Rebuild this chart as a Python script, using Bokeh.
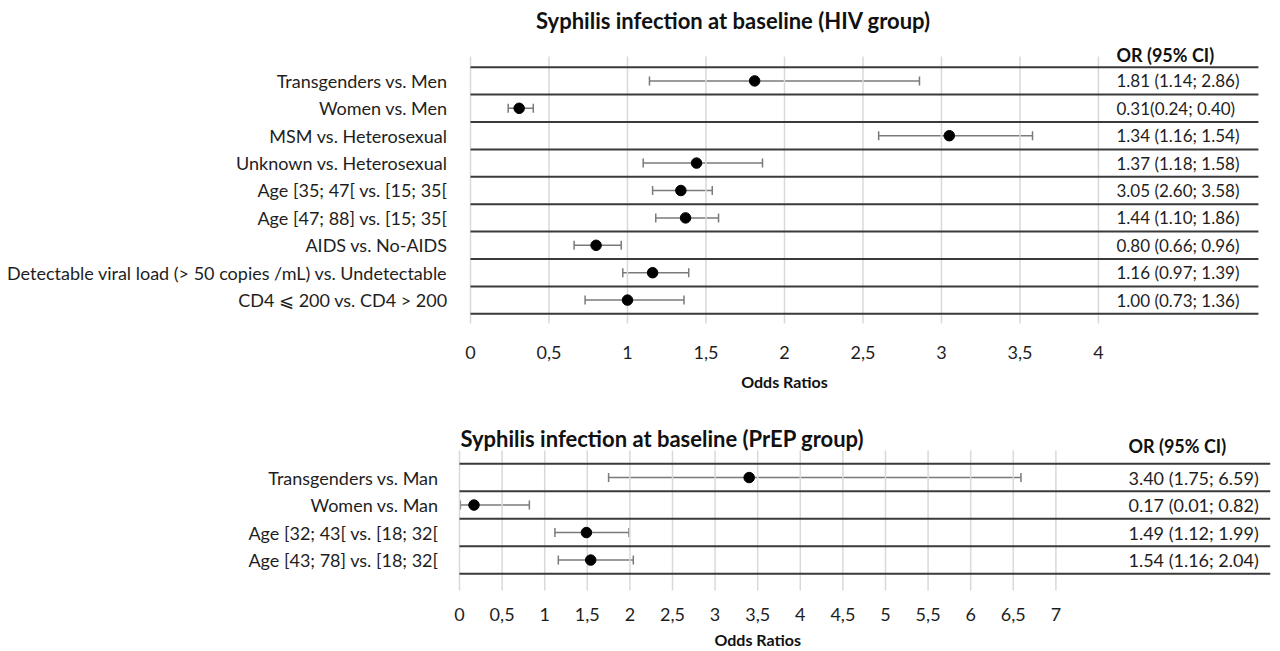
from bokeh.plotting import figure
from bokeh.models import Range1d, FixedTicker, Whisker, ColumnDataSource, TeeHead
from bokeh.layouts import column
from bokeh.core.properties import value
from bokeh.embed import file_html
from bokeh.resources import INLINE

# ---------------- data: HIV group ----------------
hiv_labels = [
    "Transgenders vs. Men",
    "Women vs. Men",
    "MSM vs. Heterosexual",
    "Unknown vs. Heterosexual",
    "Age [35; 47[ vs. [15; 35[",
    "Age [47; 88] vs. [15; 35[",
    "AIDS vs. No-AIDS",
    "Detectable viral load (> 50 copies /mL) vs. Undetectable",
    "CD4 \u2a7d 200 vs. CD4 > 200",
]
hiv_or = [1.81, 0.31, 3.05, 1.44, 1.34, 1.37, 0.80, 1.16, 1.00]
hiv_lo = [1.14, 0.24, 2.60, 1.10, 1.16, 1.18, 0.66, 0.97, 0.73]
hiv_hi = [2.86, 0.40, 3.58, 1.86, 1.54, 1.58, 0.96, 1.39, 1.36]
hiv_text = [
    "1.81 (1.14; 2.86)",
    "0.31(0.24; 0.40)",
    "1.34 (1.16; 1.54)",
    "1.37 (1.18; 1.58)",
    "3.05 (2.60; 3.58)",
    "1.44 (1.10; 1.86)",
    "0.80 (0.66; 0.96)",
    "1.16 (0.97; 1.39)",
    "1.00 (0.73; 1.36)",
]
hiv_ticks = [0, 0.5, 1, 1.5, 2, 2.5, 3, 3.5, 4]

# ---------------- data: PrEP group ----------------
prep_labels = [
    "Transgenders vs. Man",
    "Women vs. Man",
    "Age [32; 43[ vs. [18; 32[",
    "Age [43; 78] vs. [18; 32[",
]
prep_or = [3.40, 0.17, 1.49, 1.54]
prep_lo = [1.75, 0.01, 1.12, 1.16]
prep_hi = [6.59, 0.82, 1.99, 2.04]
prep_text = [
    "3.40 (1.75; 6.59)",
    "0.17 (0.01; 0.82)",
    "1.49 (1.12; 1.99)",
    "1.54 (1.16; 2.04)",
]
prep_ticks = [0, 0.5, 1, 1.5, 2, 2.5, 3, 3.5, 4, 4.5, 5, 5.5, 6, 6.5, 7]

FONT = "Lato"
TXT = "#1e1e1e"
BODY = "18px"


def panel(title, labels, est, lo, hi, ci_text, ticks, height, x_range, y_range,
          line_end, grid_lo, grid_hi, text_x, title_x, title_y, tick_y, xlabel_y,
          header_y, label_standoff, ci_size):
    n = len(labels)
    ys = [n - i - 0.5 for i in range(n)]
    src = ColumnDataSource(dict(y=ys, est=est, lo=lo, hi=hi, txt=ci_text))

    p = figure(width=1280, height=height, output_backend="svg", toolbar_location=None,
               x_range=Range1d(*x_range), y_range=Range1d(*y_range),
               x_axis_location=None,
               min_border_left=453, min_border_right=10,
               min_border_top=0, min_border_bottom=0)
    p.outline_line_color = None
    p.background_fill_color = "white"
    p.border_fill_color = "white"
    p.grid.grid_line_color = None

    # y axis with category labels
    p.yaxis.ticker = FixedTicker(ticks=ys)
    p.yaxis.major_label_overrides = {y: lab for y, lab in zip(ys, labels)}
    p.yaxis.axis_line_color = None
    p.yaxis.major_tick_line_color = None
    p.yaxis.minor_tick_line_color = None
    p.yaxis.major_label_standoff = label_standoff
    p.yaxis.major_label_text_font = FONT
    p.yaxis.major_label_text_font_size = BODY
    p.yaxis.major_label_text_color = TXT

    # vertical gridlines (limited extent) and tick labels
    tick_txt = [f"{t:g}".replace(".", ",") for t in ticks]
    p.segment(x0=ticks, x1=ticks, y0=[grid_lo] * len(ticks), y1=[grid_hi] * len(ticks),
              line_color="#d9d9d9", line_width=1.5)
    p.text(x=ticks, y=[tick_y] * len(ticks), text=tick_txt, text_font=value(FONT),
           text_font_size=BODY, text_align="center", text_baseline="middle",
           text_color=TXT)

    # row separator lines
    rows = list(range(n + 1))
    p.segment(x0=[0] * len(rows), x1=[line_end] * len(rows), y0=rows, y1=rows,
              line_color="#3a3a3a", line_width=2)

    # confidence intervals
    w = Whisker(source=src, base="y", lower="lo", upper="hi", dimension="width",
                line_color="#7a7a7a", line_width=1.5,
                lower_head=TeeHead(size=9, line_color="#7a7a7a", line_width=1.5),
                upper_head=TeeHead(size=9, line_color="#7a7a7a", line_width=1.5))
    p.add_layout(w)

    p.scatter(x="est", y="y", source=src, size=10.5, color="black")

    # OR column
    p.text(x=text_x, y="y", text="txt", source=src, text_font=value(FONT),
           text_font_size=ci_size, text_baseline="middle", text_align="left",
           text_color=TXT)
    p.text(x=[text_x], y=[header_y], text=["OR (95% CI)"], text_font=value(FONT),
           text_font_size="18px", text_font_style="bold", text_baseline="middle",
           text_align="left", text_color="#111111")
    p.text(x=[title_x], y=[title_y], text=[title], text_font=value(FONT),
           text_font_size="22px", text_font_style="bold", text_baseline="middle",
           text_align="center", text_color="#111111")
    p.text(x=[(ticks[0] + ticks[-1]) / 2], y=[xlabel_y], text=["Odds Ratios"],
           text_font=value(FONT), text_font_size="16px", text_font_style="bold",
           text_baseline="middle", text_align="center", text_color="#111111")
    return p


p1 = panel("Syphilis infection at baseline (HIV group)", hiv_labels, hiv_or, hiv_lo,
           hiv_hi, hiv_text, hiv_ticks, height=410,
           x_range=(-0.1083, 5.096), y_range=(-3.529, 11.434),
           line_end=5.019, grid_lo=-0.354, grid_hi=9.39, text_x=4.115,
           title_x=1.675, title_y=10.704, tick_y=-1.412, xlabel_y=-2.47,
           header_y=9.43, label_standoff=0, ci_size="17px")

p2 = panel("Syphilis infection at baseline (PrEP group)", prep_labels, prep_or, prep_lo,
           prep_hi, prep_text, prep_ticks, height=240,
           x_range=(-0.0704, 9.519), y_range=(-2.789, 5.938),
           line_end=9.519, grid_lo=-0.607, grid_hi=4.484, text_x=7.852,
           title_x=2.38, title_y=4.92, tick_y=-1.48, xlabel_y=-2.40,
           header_y=4.665, label_standoff=9, ci_size="18px")

layout = column(p1, p2, spacing=0)
open("out.html", "w").write(file_html(layout, INLINE))
